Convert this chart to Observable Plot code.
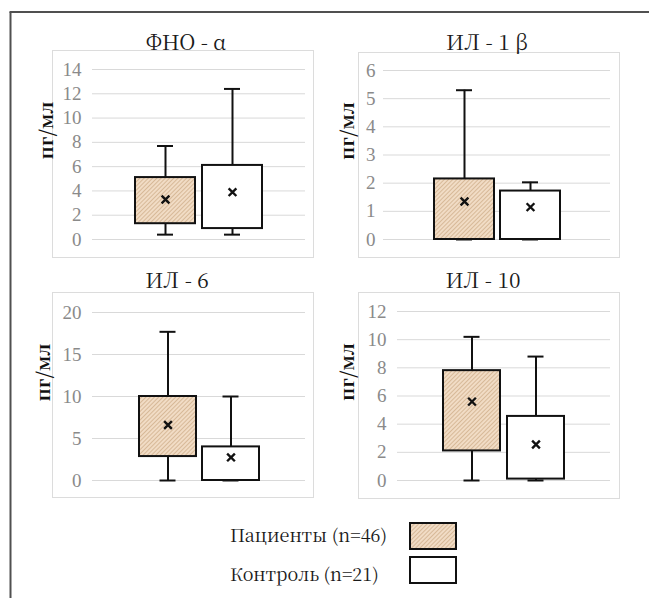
<!DOCTYPE html>
<html>
<head>
<meta charset="utf-8">
<script src="https://cdn.jsdelivr.net/npm/d3@7"></script>
<script src="https://cdn.jsdelivr.net/npm/@observablehq/plot@0.6"></script>
<style>
  body { margin: 0; background: #fff; }
  #root { position: relative; width: 649px; height: 598px; overflow: hidden; background: #fff;
          font-family: "Noto Serif CJK SC"; }
  .panelbox { position: absolute; border: 1px solid #dcdcdc; box-sizing: border-box; }
  .plotwrap { position: absolute; }
  .overlay { position: absolute; left: 0; top: 0; }
</style>
</head>
<body>
<div id="root">
  <svg width="0" height="0" style="position:absolute">
    <defs>
      <pattern id="hatch" patternUnits="userSpaceOnUse" width="3" height="3" patternTransform="rotate(45)">
        <rect width="3" height="3" fill="#f1dcc5"></rect>
        <line x1="0.5" y1="0" x2="0.5" y2="3" stroke="#d7b998" stroke-width="1"></line>
      </pattern>
    </defs>
  </svg>
</div>
<script>
// ---------- data ----------
const panelTitles = ["ФНО - α", "ИЛ - 1 β", "ИЛ - 6", "ИЛ - 10"];
const groups = ["Пациенты (n=46)", "Контроль (n=21)"];
const yLabel = "пг/мл";

// Patients (n=46)
const patMin  = [0.4, 0,    0,    0];
const patQ1   = [1.3, 0,    2.85, 2.1];
const patQ3   = [5.1, 2.15, 10,   7.8];
const patMax  = [7.7, 5.3,  17.7, 10.2];
const patMean = [3.3, 1.35, 6.6,  5.6];

// Control (n=21)
const ctlMin  = [0.4, 0,    0,    0];
const ctlQ1   = [0.9, 0,    0,    0.1];
const ctlQ3   = [6.1, 1.72, 4.0,  4.55];
const ctlMax  = [12.4, 2.03, 10,  8.8];
const ctlMean = [3.9, 1.15, 2.75, 2.55];

const yTicks = [
  [0, 2, 4, 6, 8, 10, 12, 14],
  [0, 1, 2, 3, 4, 5, 6],
  [0, 5, 10, 15, 20],
  [0, 2, 4, 6, 8, 10, 12]
];

// ---------- layout (page pixels) ----------
const layout = [
  {box: {l: 52,  t: 50,  r: 314, b: 258}, plot: {l: 92,  r: 305, t: 69,  b: 239}, labelX: 46,  tickPad: 11, bw: 60, gap: 7, title: {x: 186, y: 50}},
  {box: {l: 358, t: 52,  r: 620, b: 258}, plot: {l: 383, r: 610, t: 70,  b: 239}, labelX: 347, tickPad: 8,  bw: 60, gap: 6, title: {x: 487, y: 50}},
  {box: {l: 52,  t: 292, r: 314, b: 498}, plot: {l: 92,  r: 305, t: 312, b: 480}, labelX: 43,  tickPad: 11, bw: 57, gap: 6, title: {x: 177, y: 288}},
  {box: {l: 358, t: 292, r: 620, b: 499}, plot: {l: 397, r: 610, t: 311, b: 480}, labelX: 347, tickPad: 11, bw: 57, gap: 7, title: {x: 483, y: 288}}
];

const root = document.getElementById("root");
const TICKFONT = '"Liberation Serif"';
const CYRFONT = '"Noto Serif CJK SC"';

function drawPanel(i) {
  const L = layout[i];
  const rows = [
    {group: groups[0], min: patMin[i], q1: patQ1[i], q3: patQ3[i], max: patMax[i], mean: patMean[i]},
    {group: groups[1], min: ctlMin[i], q1: ctlQ1[i], q3: ctlQ3[i], max: ctlMax[i], mean: ctlMean[i]}
  ];
  const svgLeft = L.plot.l - 75;
  const width = L.box.r - svgLeft;
  const height = L.box.b - L.box.t;
  const W = L.plot.r - L.plot.l;
  const step = L.bw + L.gap;
  const pi = L.gap / step;
  const po = (W / step - 2 + pi) / 2;
  const capInset = (L.bw - 16) / 2;

  const boxDiv = document.createElement("div");
  boxDiv.className = "panelbox";
  Object.assign(boxDiv.style, {left: L.box.l + "px", top: L.box.t + "px", width: (L.box.r - L.box.l) + "px", height: (L.box.b - L.box.t) + "px"});
  root.appendChild(boxDiv);

  const chart = Plot.plot({
    width, height,
    marginLeft: L.plot.l - svgLeft,
    marginRight: L.box.r - L.plot.r,
    marginTop: L.plot.t - L.box.t,
    marginBottom: L.box.b - L.plot.b,
    style: {background: "transparent", fontFamily: TICKFONT, fontSize: "19px", color: "#8a8a8a", overflow: "visible"},
    x: {type: "band", domain: groups, paddingInner: pi, paddingOuter: po, axis: null},
    y: {domain: [0, yTicks[i][yTicks[i].length - 1]], ticks: yTicks[i], tickSize: 0, tickPadding: L.tickPad, label: null, tickFormat: d => String(d)},
    marks: [
      Plot.ruleY(yTicks[i], {stroke: "#d9d9d9", strokeWidth: 1}),
      Plot.ruleX(rows, {x: "group", y1: "min", y2: "max", stroke: "#111", strokeWidth: 2}),
      Plot.tickY(rows, {x: "group", y: "min", stroke: "#111", strokeWidth: 2, insetLeft: capInset, insetRight: capInset}),
      Plot.tickY(rows, {x: "group", y: "max", stroke: "#111", strokeWidth: 2, insetLeft: capInset, insetRight: capInset}),
      Plot.barY(rows.slice(0, 1), {x: "group", y1: "q1", y2: "q3", fill: "url(#hatch)", stroke: "#111", strokeWidth: 2}),
      Plot.barY(rows.slice(1), {x: "group", y1: "q1", y2: "q3", fill: "white", stroke: "#111", strokeWidth: 2}),
      Plot.dot(rows, {x: "group", y: "mean", symbol: "times", r: 3.6, stroke: "#111", strokeWidth: 2.4}),
      Plot.text([yLabel], {frameAnchor: "left", dx: L.labelX - L.plot.l, dy: 5, rotate: -90, text: d => d,
        fontSize: 19, fontWeight: "bold", fill: "#111", fontFamily: CYRFONT})
    ]
  });
  const wrap = document.createElement("div");
  wrap.className = "plotwrap";
  Object.assign(wrap.style, {left: svgLeft + "px", top: L.box.t + "px"});
  wrap.appendChild(chart);
  root.appendChild(wrap);
}

for (let i = 0; i < 4; i++) drawPanel(i);

// ---------- overlay: frame, titles, legend ----------
const NS = "http://www.w3.org/2000/svg";
const ov = document.createElementNS(NS, "svg");
ov.setAttribute("class", "overlay");
ov.setAttribute("width", 649);
ov.setAttribute("height", 598);
function el(tag, attrs, text) {
  const e = document.createElementNS(NS, tag);
  for (const k in attrs) e.setAttribute(k, attrs[k]);
  if (text != null) e.textContent = text;
  ov.appendChild(e);
  return e;
}
el("line", {x1: 10.5, y1: 12, x2: 10.5, y2: 598, stroke: "#505050", "stroke-width": 2});
el("line", {x1: 9.5, y1: 12, x2: 649, y2: 12, stroke: "#505050", "stroke-width": 2});
layout.forEach((L, i) => {
  el("text", {x: L.title.x, y: L.title.y, "text-anchor": "middle", "font-size": 21, "font-family": CYRFONT, fill: "#1a1a1a"}, panelTitles[i]);
});
const legendY = [542, 581];
const swatchY = [523, 557];
const swatchFill = ["url(#hatch)", "white"];
groups.forEach((g, j) => {
  el("text", {x: 230, y: legendY[j], "font-size": 18, "font-family": CYRFONT, fill: "#1a1a1a"}, g);
  el("rect", {x: 410, y: swatchY[j], width: 46, height: 26, fill: swatchFill[j], stroke: "#111", "stroke-width": 2});
});
root.appendChild(ov);
</script>
</body>
</html>
